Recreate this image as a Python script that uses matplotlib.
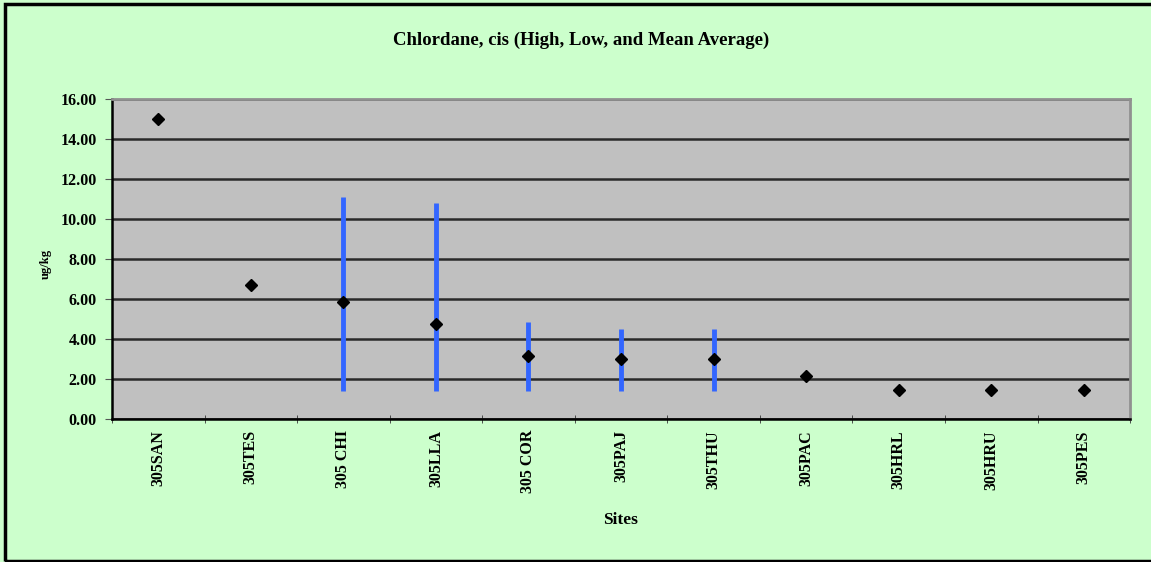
import matplotlib.pyplot as plt
import numpy as np
from matplotlib.patches import Rectangle

# dados
sites = ['305SAN', '305TES', '305 CHI', '305LLA', '305 COR', '305PAJ',
         '305THU', '305PAC', '305HRL', '305HRU', '305PES']
media = [15.0, 6.7, 5.85, 4.75, 3.15, 3.0, 3.0, 2.15, 1.45, 1.45, 1.45]
alto = [15.0, 6.7, 11.1, 10.8, 4.85, 4.5, 4.5, 2.15, 1.45, 1.45, 1.45]
baixo = [15.0, 6.7, 1.4, 1.4, 1.4, 1.4, 1.4, 2.15, 1.45, 1.45, 1.45]

plt.rcParams['font.family'] = ['Liberation Serif', 'DejaVu Serif']
plt.rcParams['font.weight'] = 'bold'

fig = plt.figure(figsize=(11.51, 5.62), dpi=100, facecolor='#CCFFCC')
ax = fig.add_axes([0.0973, 0.2544, 0.8845, 0.5694])
ax.set_facecolor('#C0C0C0')

# borda da figura
fig.patches.append(Rectangle((5 / 1151, 1 / 562), 1.2, 557 / 562, transform=fig.transFigure,
                             fill=False, edgecolor='black', linewidth=2.5))

x = np.arange(len(sites))
for i in range(len(sites)):
    if alto[i] > baixo[i]:
        ax.plot([x[i], x[i]], [baixo[i], alto[i]], color='#3366FF', linewidth=3.5,
                solid_capstyle='butt', zorder=3)
ax.plot(x, media, linestyle='none', marker='D', markersize=6.5, color='black', zorder=4)

ax.set_xlim(-0.5, len(sites) - 0.5)
ax.set_ylim(0, 16)
ax.set_yticks(np.arange(0, 17, 2))
ax.set_yticklabels([f'{v:.2f}' for v in np.arange(0, 17, 2)], fontsize=11.5, fontweight='bold')
ax.yaxis.grid(True, color='#2a2a2a', linewidth=1.8)
ax.set_axisbelow(True)

ax.set_xticks(x)
ax.set_xticklabels(sites, rotation=90, fontsize=11.5, fontweight='bold', va='top')
ax.set_xticks(np.arange(-0.5, len(sites), 1), minor=True)
ax.tick_params(axis='x', which='major', length=0, pad=8)
ax.tick_params(axis='x', which='minor', length=6, direction='inout', color='#333333')
ax.tick_params(axis='y', length=5, color='#555555', pad=6)

for lado in ['top', 'right']:
    ax.spines[lado].set_color('#909090')
    ax.spines[lado].set_linewidth(2)
ax.spines['left'].set_color('black')
ax.spines['bottom'].set_color('black')
ax.spines['left'].set_linewidth(1.8)
ax.spines['bottom'].set_linewidth(1.8)

fig.text(0.505, 0.928, 'Chlordane, cis (High, Low, and Mean Average)', ha='center', va='center',
         fontsize=13.5, fontweight='bold')
fig.text(0.04, 0.53, 'ug/kg', rotation=90, ha='center', va='center', fontsize=9, fontweight='bold')
fig.text(0.539, 0.075, 'Sites', ha='center', va='center', fontsize=12.5, fontweight='bold')

fig.savefig('out.png', dpi=100, facecolor=fig.get_facecolor())
